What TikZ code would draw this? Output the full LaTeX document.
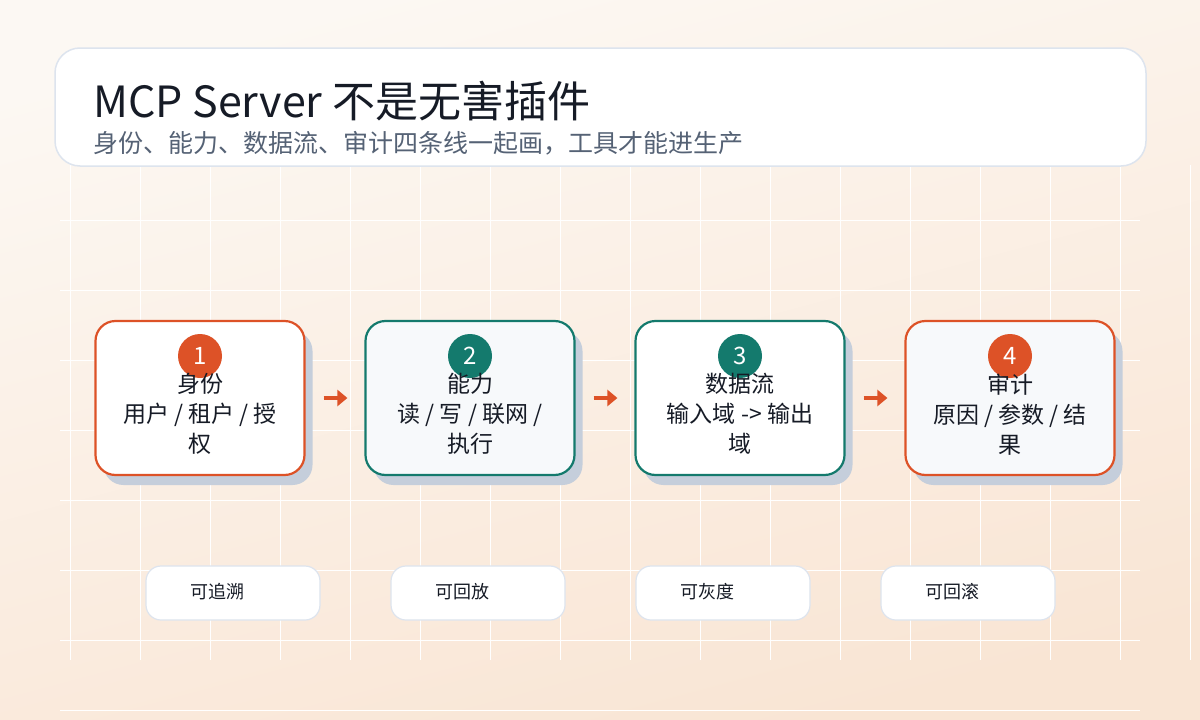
\documentclass[tikz,border=0pt]{standalone}
\usepackage{fontspec}
\setmainfont{Noto Sans CJK SC}
\usetikzlibrary{positioning,arrows.meta}
\definecolor{orangeA}{HTML}{DD5227}
\definecolor{tealA}{HTML}{147A6D}
\definecolor{shadowA}{HTML}{C5CEDB}
\definecolor{inkA}{HTML}{161B26}
\definecolor{subA}{HTML}{556275}
\definecolor{edgeA}{HTML}{DDE4EE}
\definecolor{paleA}{HTML}{F7F9FB}
\definecolor{bgtop}{HTML}{FCF8F3}
\definecolor{bgbot}{HTML}{F9E5D4}
\newcommand\sepA{ / }
\tikzset{
  step/.style={draw=#1, line width=2.2pt, rounded corners=20pt, minimum width=209pt, minimum height=154pt},
  shade box/.style={fill=shadowA, rounded corners=20pt, minimum width=209pt, minimum height=154pt},
  badge/.style={circle, fill=#1, minimum size=44pt, inner sep=0pt, text=white, font=\fontsize{24}{24}\selectfont},
  label/.style={align=center, text=inkA, font=\fontsize{23}{30}\selectfont},
  pill/.style={draw=edgeA, line width=1.2pt, fill=white, rounded corners=15pt, minimum width=174pt, minimum height=54pt},
  flow/.style={-{Triangle[length=10pt,width=16pt]}, draw=orangeA, fill=orangeA, line width=4pt},
}
\begin{document}
\begin{tikzpicture}[x=1pt,y=-1pt]
\shade[top color=bgtop, bottom color=bgbot, shading angle=15] (0,0) rectangle (1200,720);
\useasboundingbox (0,0) rectangle (1200,720);

% grid
\foreach \gx in {70,140,...,1190} \draw[white, line width=1pt] (\gx,165) -- (\gx,660);
\foreach \gy in {220,290,...,710} \draw[white, line width=1pt] (60,\gy) -- (1140,\gy);

% header
\draw[draw=edgeA, line width=1.5pt, fill=white, rounded corners=25pt] (55,48) rectangle (1146,166);
\node[anchor=base west, text=inkA, font=\fontsize{43}{43}\selectfont, inner sep=0pt] (title) at (93,117) {MCP Server 不是无害插件};
\node[anchor=base west, text=subA, font=\fontsize{25}{25}\selectfont, inner sep=0pt] (subtitle) at (93,152) {身份、能力、数据流、审计四条线一起画，工具才能进生产};

% steps
\foreach \i/\cx/\col/\bg/\head/\body in {
  1/200/orangeA/white/身份/用户\sepA 租户\sepA 授\\权,
  2/470/tealA/paleA/能力/读\sepA 写\sepA 联网\sepA\\执行,
  3/740/tealA/white/数据流/输入域 -> 输出\\域,
  4/1010/orangeA/paleA/审计/原因\sepA 参数\sepA 结\\果} {
  \node[shade box] at (\cx+8,408) {};
  \node[step=\col, fill=\bg] (step\i) at (\cx,398) {};
  \node[badge=\col] (badge\i) at (\cx,356) {\i};
  \node[label, anchor=north] (text\i) at (\cx,370) {\head\\\body};
}

% connectors
\foreach \a/\b in {1/2,2/3,3/4}
  \draw[flow] ([xshift=18pt]step\a.east) -- ([xshift=-17pt]step\b.west);

% outcomes
\foreach \i/\px/\word in {1/233/可追溯,2/478/可回放,3/723/可灰度,4/968/可回滚} {
  \node[pill] (out\i) at (\px,593) {};
  \node[anchor=west, text=inkA, font=\fontsize{18}{18}\selectfont] (outtext\i) at (\px-46,592) {\word};
}
\end{tikzpicture}
\end{document}
